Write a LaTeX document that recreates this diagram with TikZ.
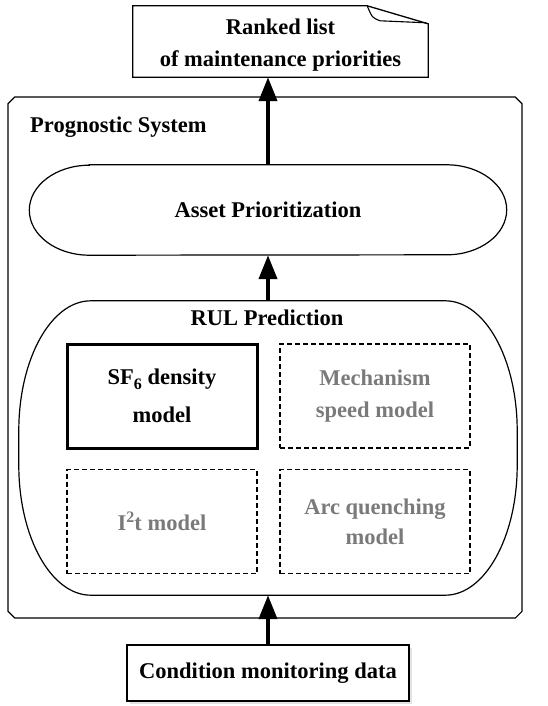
\documentclass[tikz,border=0pt]{standalone}
\usepackage{fontspec}
\setmainfont{Liberation Serif}
\usepackage{xcolor}
\usepackage{tikz}
\usetikzlibrary{positioning, calc, arrows.meta, shapes.misc, shadows}
\definecolor{ModelGray}{RGB}{122,122,122}
\newcommand{\lowsix}{\raisebox{-5pt}{\fontsize{16}{16}\selectfont 6}}
\newcommand{\hightwo}{\raisebox{8pt}{\fontsize{16}{16}\selectfont 2}}
\tikzset{
    plainnode/.style={
        font=\fontsize{22.5}{26}\selectfont\bfseries, align=center, inner sep=0pt
    },
    titlenode/.style={
        plainnode
    },
    activemodel/.style={
        plainnode, draw, line width=3pt, minimum width=190pt, minimum height=104pt
    },
    idlemodel/.style={
        plainnode, draw, dashed, dash pattern=on 5pt off 3pt, line width=1.1pt,
        text=ModelGray, minimum width=190pt, minimum height=104pt
    },
    datanode/.style={
        plainnode, draw, fill=white, line width=1.1pt, minimum width=282pt, minimum height=56pt,
        drop shadow={shadow xshift=2.5pt, shadow yshift=-3pt, fill=black!22}
    },
    flow/.style={
        -{Triangle[length=24pt,width=18pt]}, line width=4pt
    }
}

\begin{document}
\begin{tikzpicture}[x=1pt, y=-1pt]
    \useasboundingbox (0,0) rectangle (547,706);
    \node[chamfered rectangle, chamfered rectangle xsep=13pt, chamfered rectangle ysep=13pt,
          draw, line width=1.2pt, minimum width=514pt, minimum height=521pt] (prog) at (265,357.5) {};
    \node[titlenode, anchor=west] (progtitle) at (30,127) {Prognostic System};

    \node[plainnode, minimum width=295pt, minimum height=71pt] (ranked) at (280.5,41.5) {};
    \node[plainnode] (rankedtext) at (280.5,45) {Ranked list\\[6pt]of maintenance priorities};
    \draw[line width=1.3pt] (ranked.south west) -- (ranked.north west) -- ([xshift=-61pt]ranked.north east)
        -- ([yshift=-18pt]ranked.north east) -- (ranked.south east) -- cycle;
    \draw[line width=1.1pt] ([xshift=-61pt]ranked.north east) .. controls ([xshift=-56pt,yshift=-12pt]ranked.north east)
        .. ([xshift=-48pt,yshift=-15pt]ranked.north east) -- ([xshift=-2pt,yshift=-17pt]ranked.north east);

    \node[plainnode, minimum width=477pt, minimum height=90pt] (asset) at (268,210) {Asset Prioritization};
    \draw[line width=1.2pt] ([xshift=60pt]asset.north west) -- ([xshift=-60pt]asset.north east)
        arc[start angle=90, end angle=-90, x radius=60pt, y radius=45pt]
        -- ([xshift=60pt]asset.south west)
        arc[start angle=270, end angle=90, x radius=60pt, y radius=45pt] -- cycle;

    \node[plainnode, minimum width=498pt, minimum height=294pt] (rul) at (268,448) {};
    \draw[line width=1.2pt] ([xshift=72pt]rul.north west) -- ([xshift=-72pt]rul.north east)
        arc[start angle=90, end angle=0, x radius=72pt, y radius=130pt]
        -- ([yshift=130pt]rul.south east)
        arc[start angle=0, end angle=-90, x radius=72pt, y radius=130pt]
        -- ([xshift=72pt]rul.south west)
        arc[start angle=270, end angle=180, x radius=72pt, y radius=130pt]
        -- ([yshift=-130pt]rul.north west)
        arc[start angle=180, end angle=90, x radius=72pt, y radius=130pt] -- cycle;
    \node[titlenode] (rultitle) at (267,318) {RUL Prediction};

    \node[activemodel] (sf6) at (162,396) {SF\lowsix{} density\\[12pt]model};
    \node[idlemodel] (mech) at (375,396) {Mechanism\\[6pt]speed model};
    \node[idlemodel] (i2t) at (162,521.5) {I\hightwo{}t model};
    \node[idlemodel] (arcq) at (375,521.5) {Arc quenching\\[4pt]model};

    \node[datanode] (cmd) at (268,673) {Condition monitoring data};

    \draw[flow] (cmd.north) -- (rul.south);
    \draw[flow] (rul.north) -- (asset.south);
    \draw[flow] (asset.north) -- (asset.north |- ranked.south);
\end{tikzpicture}
\end{document}
